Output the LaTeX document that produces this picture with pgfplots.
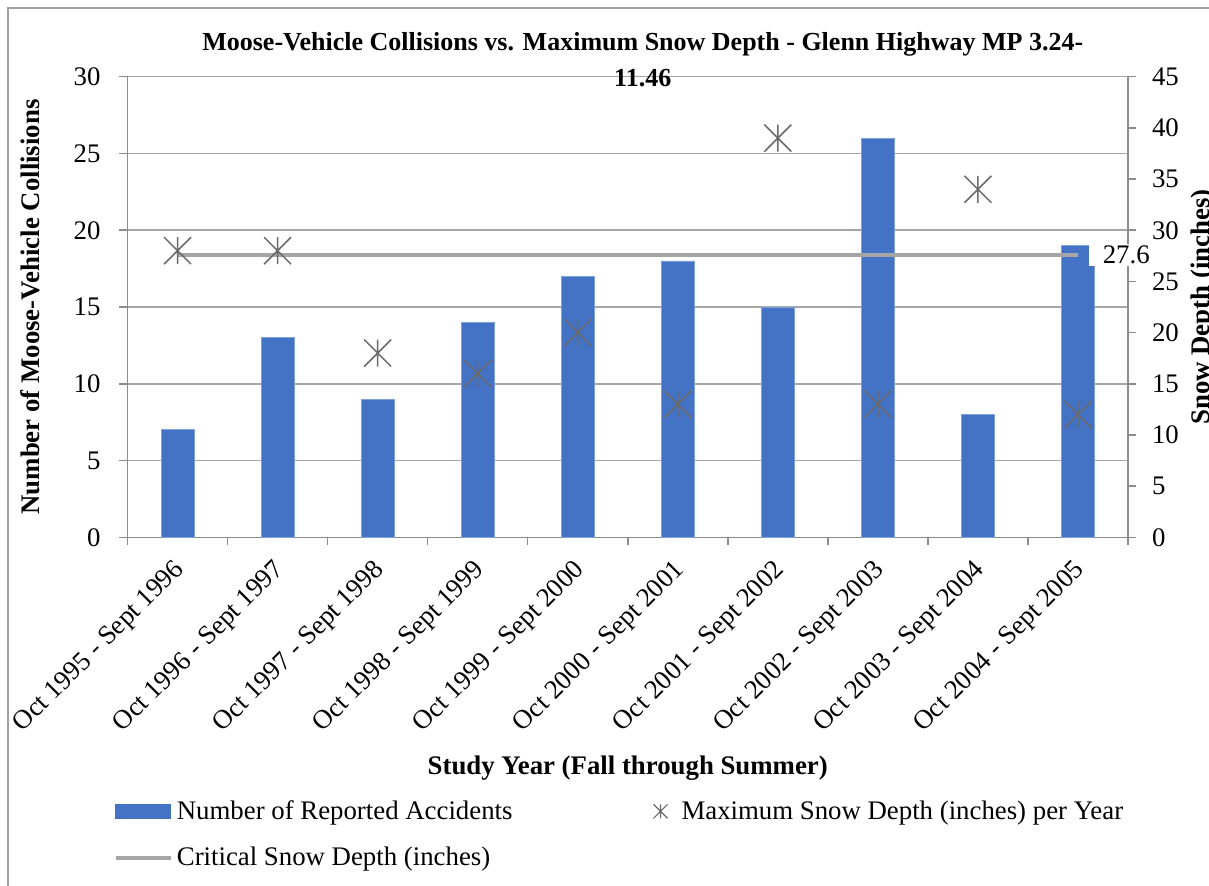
\documentclass[border=0pt]{standalone}
\usepackage{pgfplots}
\usepackage{pgfplotstable}
\pgfplotsset{compat=1.18}
\usepackage{fontspec}
\setmainfont{Liberation Serif}

\definecolor{barblue}{HTML}{4472C4}
\definecolor{baredge}{HTML}{7EA1DA}
\definecolor{gridgray}{HTML}{A6A6A6}
\definecolor{axisgray}{HTML}{8C8C8C}
\definecolor{markgray}{HTML}{6A6A6A}
\definecolor{critgray}{HTML}{A5A5A5}
\definecolor{framegray}{HTML}{A0A0A0}

\newcommand\chartfont{\fontsize{13.4}{16}\selectfont}

% asterisk-like marker: vertical stroke plus a diagonal cross
\pgfdeclareplotmark{xstar}{%
  \pgfpathmoveto{\pgfqpoint{0pt}{-\pgfplotmarksize}}%
  \pgfpathlineto{\pgfqpoint{0pt}{\pgfplotmarksize}}%
  \pgfpathmoveto{\pgfqpoint{-\pgfplotmarksize}{-\pgfplotmarksize}}%
  \pgfpathlineto{\pgfqpoint{\pgfplotmarksize}{\pgfplotmarksize}}%
  \pgfpathmoveto{\pgfqpoint{-\pgfplotmarksize}{\pgfplotmarksize}}%
  \pgfpathlineto{\pgfqpoint{\pgfplotmarksize}{-\pgfplotmarksize}}%
  \pgfusepathqstroke}

% study years: reported collisions and maximum snow depth (inches)
\pgfplotstableread{
idx accidents snow
0   7   28
1   13  28
2   9   18
3   14  16
4   17  20
5   18  13
6   15  39
7   26  13
8   8   34
9   19  12
}\yeardata

\pgfplotsset{
  basestyle/.style={
    scale only axis, width=500.25pt, height=230.3pt,
    at={(63.75pt,-268.65pt)}, anchor=south west,
    xmin=-0.5, xmax=9.5,
    axis line style={axisgray, line width=0.75pt},
    tick style={axisgray, line width=0.75pt},
    tick align=outside, major tick length=4pt,
    ticklabel style={font=\chartfont},
    /pgf/number format/assume math mode=true,
    label style={font=\bfseries\chartfont},
  }
}

\begin{document}
\begin{tikzpicture}
\clip (0pt,0pt) rectangle (604.5pt,-443pt);
\draw[framegray, line width=0.6pt] (4pt,-4pt) rectangle (700pt,-600pt);

% collisions on the left axis
\begin{axis}[basestyle,
  ymin=0, ymax=30, ytick={0,5,...,30},
  axis y line*=left, axis x line*=bottom,
  yticklabel style={xshift=-6pt},
  ymajorgrids, grid style={gridgray, line width=0.75pt},
  xtick={-0.5,0.5,1.5,2.5,3.5,4.5,5.5,6.5,7.5,8.5,9.5},
  x tick label as interval,
  xticklabels={Oct 1995 - Sept 1996, Oct 1996 - Sept 1997, Oct 1997 - Sept 1998,
    Oct 1998 - Sept 1999, Oct 1999 - Sept 2000, Oct 2000 - Sept 2001,
    Oct 2001 - Sept 2002, Oct 2002 - Sept 2003, Oct 2003 - Sept 2004,
    Oct 2004 - Sept 2005},
  xticklabel style={xshift=4pt, yshift=-8pt, rotate=45, anchor=east, font=\chartfont},
  xlabel={Study Year (Fall through Summer)},
  xlabel style={yshift=-1.5pt},
  ylabel={Number of Moose-Vehicle Collisions},
  ylabel style={at={(axis description cs:-0.0975,0.5)}, anchor=center},
  title={Moose-Vehicle Collisions vs. Maximum Snow Depth - Glenn Highway MP 3.24-\\11.46},
  title style={font=\bfseries\fontsize{13}{18}\selectfont, align=center,
    at={(axis description cs:0.515,1)}, anchor=south, yshift=-14.5pt},
]
\addplot[ybar, bar width=16.5pt, bar shift=0pt, fill=barblue, draw=baredge, line width=0.4pt]
  table[x=idx, y=accidents] {\yeardata};
\end{axis}

% snow depth on the right axis
\begin{axis}[basestyle,
  ymin=0, ymax=45, ytick={0,5,...,45},
  axis y line*=right, axis x line=none,
  yticklabel style={xshift=4.5pt},
  ylabel={Snow Depth (inches)},
  ylabel style={at={(axis description cs:1.075,0.5)}, anchor=center},
  legend columns=2,
  legend style={draw=none, fill=none, font=\chartfont,
    at={(axis description cs:-0.02,-0.553)}, anchor=north west,
    /tikz/every even column/.append style={column sep=63.5pt},
    row sep=8.5pt},
  legend cell align=left,
]
\addlegendimage{legend image code/.code={
  \fill[barblue] (0pt,-3.5pt) rectangle (27.5pt,3.5pt);}}
\addlegendentry{Number of Reported Accidents}
\addplot[only marks, mark=xstar, mark size=6.75pt, markgray, line width=0.75pt,
  legend image code/.code={
    \pgfpathrectangle{\pgfqpoint{0pt}{-0.1pt}}{\pgfqpoint{17pt}{0.2pt}}%
    \pgfusepath{use as bounding box}%
    \draw[markgray, line width=0.6pt, mark=xstar, mark size=3.5pt]
      plot coordinates {(8.5pt,0pt)};}]
  table[x=idx, y=snow] {\yeardata};
\addlegendentry{Maximum Snow Depth (inches) per Year}
\addplot[critgray, line width=2pt, no marks,
  legend image code/.code={
    \draw[critgray, line width=2pt] (0pt,0pt) -- (27.5pt,0pt);}]
  coordinates {(0,27.6) (9,27.6)};
\addlegendentry{Critical Snow Depth (inches)}
\coordinate (critend) at (axis cs:9,27.6);
\end{axis}

\node[fill=white, anchor=west, inner xsep=7pt, inner ysep=1pt, font=\chartfont]
  at ([xshift=5.2pt]critend) {27.6};
\end{tikzpicture}
\end{document}
